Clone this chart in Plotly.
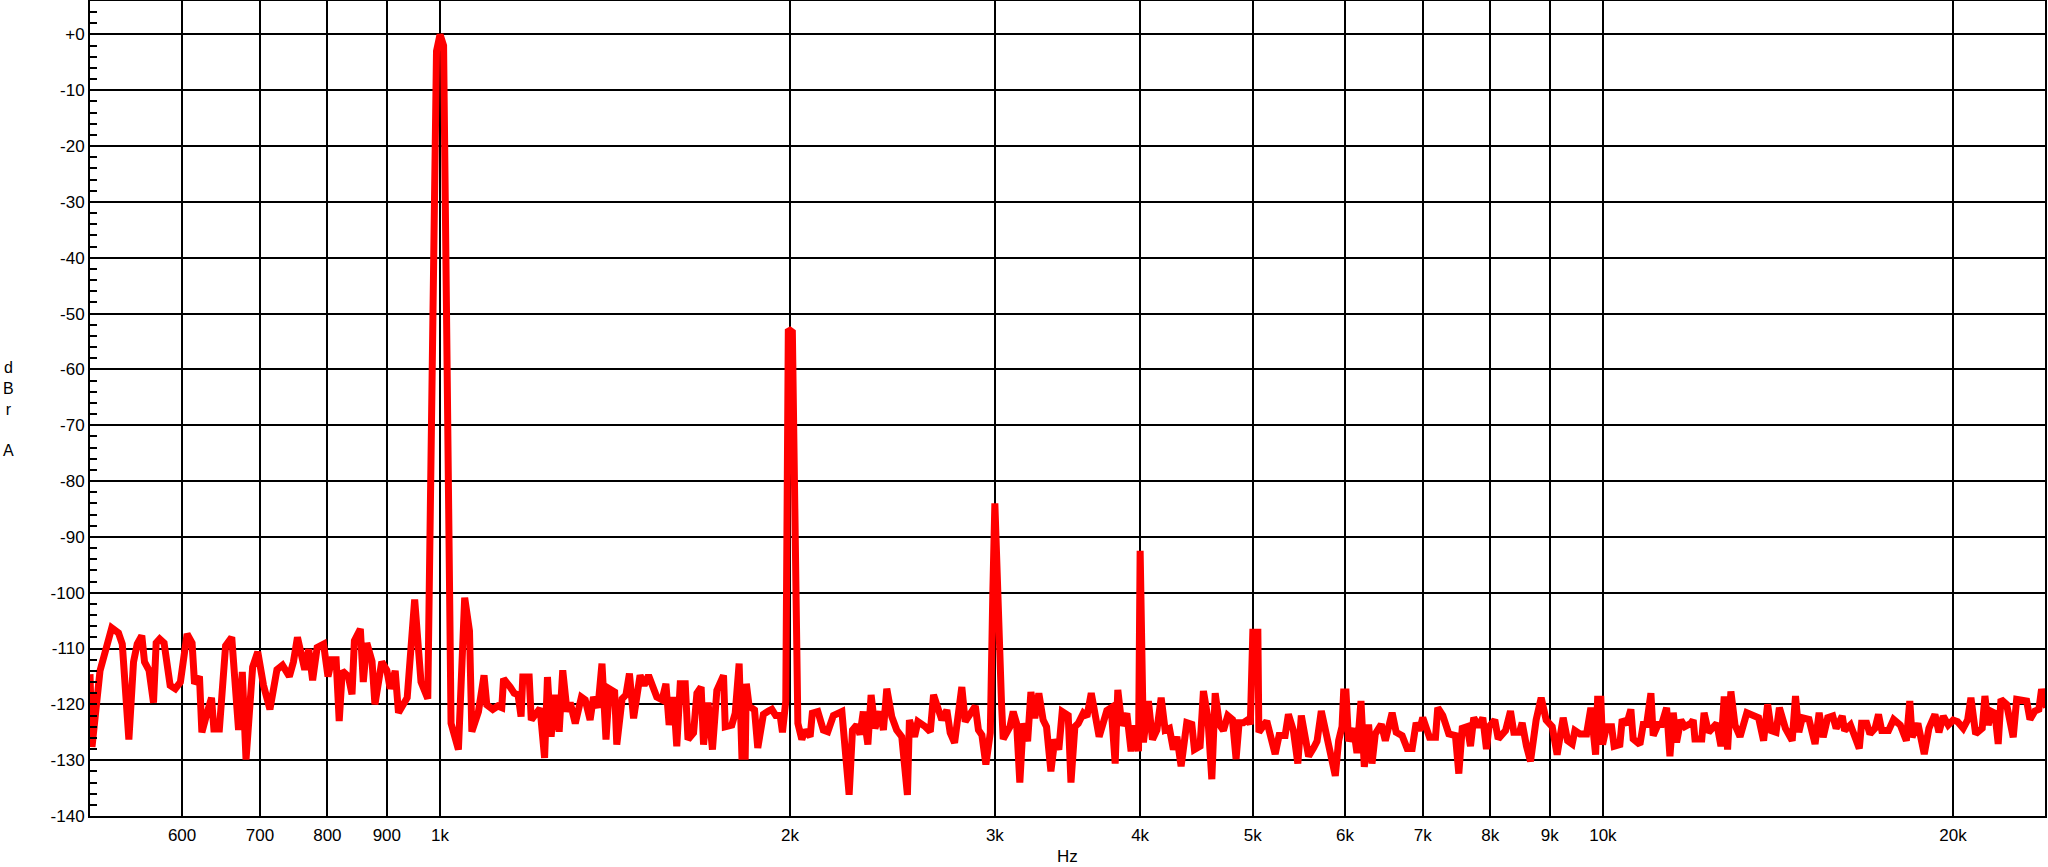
import plotly.graph_objects as go

# ---- data (frequency in Hz, level in dBr A) ----
freq_500_1k = [500, 502, 510, 522, 529, 533, 540, 545, 549, 554, 557, 562, 567, 570, 574, 579,
               586, 592, 598, 606, 612, 615, 621, 624, 630, 636, 639, 646, 654, 662, 671, 676,
               681, 690, 697, 705, 714, 724, 732, 742, 748, 754, 765, 771, 777, 784, 794, 801,
               807, 814, 819, 824, 834, 840, 844, 854, 859, 865, 874, 879, 891, 900, 906, 915,
               921, 937, 951, 963, 976, 993]
level_500_1k = [-114.6, -127.6, -114, -106.3, -107.2, -109.2, -126.3, -112.4, -109.2, -107.7, -112.4,
                -113.9, -119.7, -109, -108.3, -109, -116.6, -117.2, -116, -107.4, -109, -116.3, -115,
                -125, -121.8, -118.8, -124.4, -124.4, -109.5, -108, -124.6, -114.2, -129.9, -113.3,
                -110.6, -116.6, -120.9, -113.8, -113, -115, -112.4, -108, -113.8, -110.1, -115.7,
                -109.8, -109.2, -115, -112, -112, -123, -114, -115, -118.2, -108.6, -106.5, -116,
                -109, -112.3, -120, -112.4, -113.9, -117.2, -114, -121.5, -118.8, -101.2, -116,
                -119, -3]

freq_1k_2k = [1000, 1007, 1022, 1037, 1050, 1060, 1065, 1079, 1091, 1097, 1110, 1121, 1130, 1134,
              1149, 1158, 1167, 1174, 1178, 1193, 1198, 1219, 1230, 1237, 1246, 1256, 1266, 1275,
              1286, 1294, 1307, 1323, 1333, 1346, 1355, 1367, 1378, 1389, 1398, 1413, 1419, 1434,
              1445, 1455, 1467, 1486, 1498, 1511, 1536, 1552, 1564, 1574, 1588, 1598, 1609, 1625,
              1634, 1652, 1663, 1677, 1685, 1700, 1715, 1730, 1753, 1759, 1782, 1794, 1808, 1818,
              1830, 1834, 1844, 1864, 1876, 1897, 1916, 1929, 1944, 1961, 1970, 1983]
level_1k_2k = [0, -2, -123.4, -128.1, -100.9, -106.8, -124.9, -121.3, -114.8, -120.1, -120.9, -120.3,
               -120.6, -115.4, -116.9, -118, -118.3, -122.2, -115.1, -115.1, -122.8, -120.7, -129.6,
               -115.1, -125.8, -118.3, -124.9, -113.9, -121.3, -119.7, -123.4, -118.7, -119.2,
               -122.8, -118.7, -120.6, -112.7, -126.3, -117.2, -117.8, -127.2, -119, -118.3,
               -114.5, -122.5, -114.8, -116.6, -114.8, -118.7, -119.2, -116.3, -123.7, -118.7,
               -127.5, -116.3, -116.3, -126.3, -125.1, -118, -116.9, -127.2, -119.7, -128.1,
               -117.5, -114.8, -124, -123.7, -121.6, -112.7, -129.3, -129.3, -116.3, -120.3, -121,
               -127.8, -121.8, -121.2, -120.9, -122, -122, -125, -119.4]

freq_2k_4k = [1993, 2009, 2031, 2047, 2060, 2081, 2090, 2113, 2136, 2155, 2179, 2216, 2248, 2263,
              2282, 2297, 2312, 2333, 2348, 2366, 2390, 2406, 2422, 2446, 2470, 2495, 2523, 2533,
              2559, 2576, 2614, 2640, 2657, 2683, 2701, 2728, 2746, 2770, 2810, 2829, 2886, 2904,
              2924, 2947, 2973, 2988, 3000, 3040, 3050, 3091, 3111, 3132, 3152, 3173, 3201, 3222,
              3247, 3273, 3301, 3323, 3352, 3378, 3405, 3428, 3469, 3488, 3515, 3539, 3574, 3600,
              3631, 3688, 3745, 3777, 3807, 3827, 3858, 3896, 3929, 3960, 3987]
level_2k_4k = [-52.8, -53.3, -123.4, -126.3, -124.6, -125.8, -121.6, -121.3, -124.6, -124.9, -122,
               -121.3, -136.2, -124.6, -123.7, -125.4, -121.3, -127.2, -118.3, -124.3, -121.3,
               -124.6, -117.2, -122.2, -124.6, -125.8, -136.2, -122.8, -125.8, -123.1, -124,
               -124.9, -118.3, -121.3, -122.8, -121, -125.1, -126.9, -116.9, -123.1, -120.3,
               -124.6, -125.5, -130.8, -125.1, -100, -84, -120, -126.2, -124, -121.3, -123.4, -134,
               -123.4, -126.6, -117.8, -122.5, -118, -122.8, -124, -132, -126.3, -128.1, -121.3,
               -122, -134, -124, -123.4, -121.6, -122.2, -118, -125.8, -121.1, -120.6, -130.6,
               -117.4, -123.8, -121.6, -128.4, -123.8, -128.4]

freq_4k_7k = [4000, 4026, 4066, 4099, 4135, 4170, 4203, 4239, 4272, 4302, 4338, 4387, 4431, 4454,
              4504, 4534, 4574, 4610, 4641, 4680, 4717, 4758, 4802, 4837, 4866, 4908, 4957, 4975,
              5000, 5050, 5060, 5140, 5226, 5267, 5330, 5365, 5418, 5466, 5504, 5548, 5584, 5640,
              5678, 5726, 5791, 5829, 5887, 5926, 5966, 5985, 6013, 6044, 6104, 6145, 6194, 6235,
              6288, 6331, 6372, 6448, 6500, 6588, 6641, 6720, 6787, 6855, 6909, 6954]
level_4k_7k = [-92.5, -126.8, -119.4, -126.3, -124.6, -118.8, -124.6, -124.3, -128.1, -125.8, -131.1,
               -123.3, -123.6, -128.1, -127.5, -117.6, -122.4, -133.4, -118, -123.6, -124.7, -122,
               -122.7, -129.8, -123.3, -123.3, -122.7, -123.6, -107.1, -107.1, -125, -123, -128.9,
               -125.6, -125.6, -121.8, -124.7, -130.6, -122, -126.5, -129.3, -127.8, -126.6,
               -121.2, -126.5, -129.3, -132.8, -126.5, -124, -117.8, -117.8, -126.6, -124.3,
               -128.7, -119.4, -131.2, -123.6, -130.6, -125.3, -123.6, -126.5, -121.5, -125,
               -125.6, -127.9, -127.9, -123.3, -124.7]

freq_7k_12k = [7000, 7094, 7179, 7211, 7283, 7370, 7468, 7518, 7569, 7644, 7694, 7744, 7821, 7884,
               7941, 7981, 8073, 8128, 8247, 8328, 8383, 8478, 8523, 8596, 8665, 8762, 8850, 8938,
               9045, 9134, 9244, 9325, 9410, 9461, 9555, 9682, 9765, 9857, 9896, 9960, 9994, 10073,
               10174, 10226, 10342, 10390, 10480, 10570, 10618, 10761, 10832, 10904, 10998, 11048,
               11157, 11233, 11345, 11420, 11495, 11571, 11669, 11762, 11904, 11959]
level_7k_12k = [-122.4, -125.9, -125.9, -120.6, -122, -125.3, -125.6, -132.4, -124.3, -124, -127.5,
                -122.4, -124, -122.4, -128, -124, -122.8, -126.2, -124.7, -121.2, -125, -125,
                -123.3, -127.5, -130.2, -122.8, -118.8, -122.8, -124, -129, -122.4, -126.5, -127.1,
                -124.7, -125.3, -125.3, -120.6, -129, -119.1, -119.1, -127.2, -124, -124, -127.5,
                -127.2, -122.7, -123.6, -120.9, -126.2, -127.2, -123.6, -123.6, -118, -125.6,
                -123.6, -123.6, -120.6, -129.3, -121.5, -126.8, -122.8, -124, -123.4, -122.8]

freq_12k_24k = [12000, 12163, 12219, 12326, 12530, 12634, 12716, 12801, 12885, 12990, 13120, 13299,
                13431, 13611, 13747, 13857, 13960, 14091, 14184, 14355, 14548, 14644, 14741, 14842,
                15040, 15222, 15345, 15469, 15607, 15765, 15871, 16064, 16139, 16327, 16416, 16615,
                16691, 16859, 16971, 17142, 17259, 17372, 17606, 17783, 18020, 18238, 18363, 18448,
                18659, 18821, 18896, 19072, 19300, 19454, 19620, 19814, 20010, 20186, 20412, 20590,
                20726, 20920, 21194, 21308, 21446, 21592, 21734, 21876, 21996, 22242, 22536, 22690,
                22990, 23144, 23296, 23524, 23710, 23836, 24072]
level_12k_24k = [-126.2, -126.2, -121.5, -125, -123.4, -127.5, -118.6, -128.1, -117.7, -123.7, -125.8,
                 -121.5, -121.8, -122.4, -126.5, -120, -124.7, -125, -120.6, -124.3, -126.5, -118.5,
                 -125, -122.4, -122.7, -127.1, -121.5, -125.9, -122.4, -122.1, -124.3, -122.1,
                 -124.7, -123.7, -125, -127.9, -123.4, -123.4, -125.3, -124.3, -121.8, -124.7,
                 -124.7, -122.7, -123.7, -126.5, -119.4, -125.9, -123.4, -126.5, -128.9, -124.3,
                 -121.8, -125, -122.1, -123.7, -122.8, -123.1, -124.3, -122.8, -118.8, -125.3,
                 -124.3, -118.5, -123.7, -121.3, -121.6, -127.1, -119.1, -120, -125.9, -119.1,
                 -119.4, -119.4, -122.7, -121.2, -120.9, -117.3, -120.6]

x_tick_values = [600, 700, 800, 900, 1000, 2000, 3000, 4000, 5000, 6000, 7000, 8000, 9000, 10000, 20000]
x_tick_labels = ["600", "700", "800", "900", "1k", "2k", "3k", "4k", "5k", "6k", "7k", "8k", "9k", "10k", "20k"]
y_tick_values = [0, -10, -20, -30, -40, -50, -60, -70, -80, -90, -100, -110, -120, -130, -140]
y_tick_labels = ["+0", "-10", "-20", "-30", "-40", "-50", "-60", "-70", "-80", "-90", "-100",
                 "-110", "-120", "-130", "-140"]

freq = freq_500_1k + freq_1k_2k + freq_2k_4k + freq_4k_7k + freq_7k_12k + freq_12k_24k
level = level_500_1k + level_1k_2k + level_2k_4k + level_4k_7k + level_7k_12k + level_12k_24k

FONT = "Liberation Sans, Arial, sans-serif"

fig = go.Figure()
fig.add_trace(go.Scatter(x=freq, y=level, mode="lines",
                         line=dict(color="#ff0000", width=7), showlegend=False,
                         hoverinfo="skip"))

fig.update_layout(
    width=2048, height=867,
    margin=dict(l=90, r=3, t=1, b=51, autoexpand=False),
    paper_bgcolor="white", plot_bgcolor="white",
    font=dict(family=FONT, size=17, color="black"),
    hovermode=False,
    xaxis=dict(type="log", range=[2.69897, 4.380211], automargin=False,
               tickmode="array", tickvals=x_tick_values, ticktext=x_tick_labels,
               showgrid=True, gridcolor="black", gridwidth=2,
               showline=True, linecolor="black", linewidth=2, mirror=True,
               ticks="", ticklabelstandoff=3, zeroline=False,
               tickfont=dict(family=FONT, size=17, color="black")),
    yaxis=dict(range=[-140, 6], automargin=False,
               tickmode="array", tickvals=y_tick_values, ticktext=y_tick_labels,
               showgrid=True, gridcolor="black", gridwidth=2,
               showline=True, linecolor="black", linewidth=2, mirror=True,
               ticks="inside", ticklen=7, tickwidth=2, tickcolor="black",
               zeroline=False, ticklabelstandoff=0,
               minor=dict(tickmode="linear", tick0=0, dtick=2, ticks="inside",
                          ticklen=7, tickwidth=2, tickcolor="black", showgrid=False),
               tickfont=dict(family=FONT, size=17, color="black")),
    annotations=[
        dict(text="Hz", xref="paper", yref="paper", x=0.5, y=-0.0503,
             xanchor="center", yanchor="middle", showarrow=False,
             font=dict(family=FONT, size=17, color="black")),
        dict(text="d<br>B<br>r<br><br>A", xref="paper", yref="paper", x=-0.0419, y=0.5,
             xanchor="center", yanchor="middle", showarrow=False,
             font=dict(family=FONT, size=16, color="black")),
    ],
)

fig.write_html("out.html", config={"displayModeBar": False},
               post_script="document.body.style.margin='0';document.body.style.padding='0';")
